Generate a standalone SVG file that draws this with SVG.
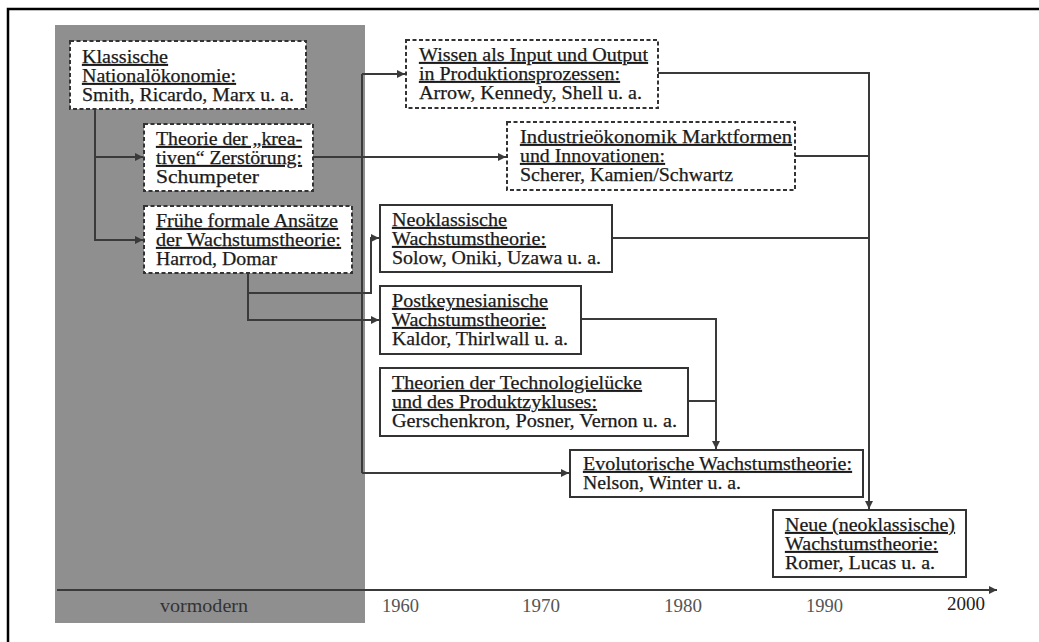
<svg xmlns="http://www.w3.org/2000/svg" width="1039" height="642" viewBox="0 0 1039 642">
<style>
.bx{fill:#fff;stroke:#333;stroke-width:2}
.dash{stroke-dasharray:4 2.5}
.t{font-family:"Liberation Serif","Times New Roman",serif;font-size:19px;fill:#1a1a1a;stroke:#1a1a1a;stroke-width:0.25}
.u{text-decoration:underline}
.c{fill:none;stroke:#3a3a3a;stroke-width:2}
.yr{font-family:"Liberation Serif","Times New Roman",serif;font-size:19px;fill:#555}
</style>
<defs>
<marker id="ah" markerUnits="userSpaceOnUse" markerWidth="9" markerHeight="8" refX="8" refY="4" orient="auto">
<path d="M0,0 L8,4 L0,8 z" fill="#3a3a3a"/>
</marker>
</defs>
<rect x="0" y="0" width="1039" height="642" fill="#fff"/>
<rect x="8" y="9" width="1045" height="650" fill="none" stroke="#000" stroke-width="2.5"/>
<rect id="vormodern-band" x="55" y="25" width="310" height="598" fill="#8f8f8f"/>

<g id="connectors">
<path class="c" d="M95,109 V240 H143" marker-end="url(#ah)"/>
<path class="c" d="M95,157 H143" marker-end="url(#ah)"/>
<path class="c" d="M248,273 V320 H379" marker-end="url(#ah)"/>
<path class="c" d="M248,293 H371 V238 H379" marker-end="url(#ah)"/>
<path class="c" d="M362,74 V473"/>
<path class="c" d="M362,74 H405" marker-end="url(#ah)"/>
<path class="c" d="M362,473 H569" marker-end="url(#ah)"/>
<path class="c" d="M313,157 H506" marker-end="url(#ah)"/>
<path class="c" d="M658,73 H869 V509" marker-end="url(#ah)"/>
<path class="c" d="M795,156 H869"/>
<path class="c" d="M612,238 H869"/>
<path class="c" d="M581,319 H716 V449" marker-end="url(#ah)"/>
<path class="c" d="M688,401 H716"/>
<path class="c" d="M57,590 H997" marker-end="url(#ah)"/>
</g>

<g id="klassische">
<rect class="bx dash" x="70" y="41" width="236" height="68"/>
<text class="t u" x="82" y="63" textLength="86" lengthAdjust="spacingAndGlyphs">Klassische</text>
<text class="t u" x="82" y="82" textLength="154" lengthAdjust="spacingAndGlyphs">Nationalökonomie:</text>
<text class="t" x="82" y="101" textLength="212" lengthAdjust="spacingAndGlyphs">Smith, Ricardo, Marx u. a.</text>
</g>

<g id="schumpeter">
<rect class="bx dash" x="144" y="124" width="169" height="67"/>
<text class="t u" x="156" y="145" textLength="146" lengthAdjust="spacingAndGlyphs">Theorie der „krea-</text>
<text class="t u" x="156" y="164" textLength="146" lengthAdjust="spacingAndGlyphs">tiven“ Zerstörung:</text>
<text class="t" x="156" y="183" textLength="103" lengthAdjust="spacingAndGlyphs">Schumpeter</text>
</g>

<g id="fruehe">
<rect class="bx dash" x="144" y="206" width="208" height="67"/>
<text class="t u" x="156" y="227" textLength="182" lengthAdjust="spacingAndGlyphs">Frühe formale Ansätze</text>
<text class="t u" x="156" y="246" textLength="185" lengthAdjust="spacingAndGlyphs">der Wachstumstheorie:</text>
<text class="t" x="156" y="265" textLength="121" lengthAdjust="spacingAndGlyphs">Harrod, Domar</text>
</g>

<g id="wissen">
<rect class="bx dash" x="406" y="40" width="252" height="68"/>
<text class="t u" x="419" y="61" textLength="229" lengthAdjust="spacingAndGlyphs">Wissen als Input und Output</text>
<text class="t u" x="419" y="80" textLength="201" lengthAdjust="spacingAndGlyphs">in Produktionsprozessen:</text>
<text class="t" x="419" y="99" textLength="223" lengthAdjust="spacingAndGlyphs">Arrow, Kennedy, Shell u. a.</text>
</g>

<g id="industrie">
<rect class="bx dash" x="507" y="122" width="288" height="68"/>
<text class="t u" x="520" y="143" textLength="272" lengthAdjust="spacingAndGlyphs">Industrieökonomik Marktformen</text>
<text class="t u" x="520" y="162" textLength="145" lengthAdjust="spacingAndGlyphs">und Innovationen:</text>
<text class="t" x="520" y="181" textLength="213" lengthAdjust="spacingAndGlyphs">Scherer, Kamien/Schwartz</text>
</g>

<g id="neoklassische">
<rect class="bx" x="380" y="205" width="232" height="67"/>
<text class="t u" x="392" y="226" textLength="115" lengthAdjust="spacingAndGlyphs">Neoklassische</text>
<text class="t u" x="392" y="245" textLength="154" lengthAdjust="spacingAndGlyphs">Wachstumstheorie:</text>
<text class="t" x="392" y="264" textLength="209" lengthAdjust="spacingAndGlyphs">Solow, Oniki, Uzawa u. a.</text>
</g>

<g id="postkeynesianische">
<rect class="bx" x="380" y="286" width="201" height="68"/>
<text class="t u" x="392" y="307" textLength="156" lengthAdjust="spacingAndGlyphs">Postkeynesianische</text>
<text class="t u" x="392" y="326" textLength="154" lengthAdjust="spacingAndGlyphs">Wachstumstheorie:</text>
<text class="t" x="392" y="345" textLength="176" lengthAdjust="spacingAndGlyphs">Kaldor, Thirlwall u. a.</text>
</g>

<g id="technologieluecke">
<rect class="bx" x="380" y="368" width="308" height="68"/>
<text class="t u" x="392" y="389" textLength="250" lengthAdjust="spacingAndGlyphs">Theorien der Technologielücke</text>
<text class="t u" x="392" y="408" textLength="205" lengthAdjust="spacingAndGlyphs">und des Produktzykluses:</text>
<text class="t" x="392" y="427" textLength="285" lengthAdjust="spacingAndGlyphs">Gerschenkron, Posner, Vernon u. a.</text>
</g>

<g id="evolutorische">
<rect class="bx" x="570" y="450" width="293" height="47"/>
<text class="t u" x="583" y="470" textLength="269" lengthAdjust="spacingAndGlyphs">Evolutorische Wachstumstheorie:</text>
<text class="t" x="583" y="489" textLength="158" lengthAdjust="spacingAndGlyphs">Nelson, Winter u. a.</text>
</g>

<g id="neue">
<rect class="bx" x="773" y="510" width="193" height="67"/>
<text class="t u" x="785" y="531" textLength="170" lengthAdjust="spacingAndGlyphs">Neue (neoklassische)</text>
<text class="t u" x="785" y="550" textLength="153" lengthAdjust="spacingAndGlyphs">Wachstumstheorie:</text>
<text class="t" x="785" y="569" textLength="150" lengthAdjust="spacingAndGlyphs">Romer, Lucas u. a.</text>
</g>

<g id="axis-labels">
<text class="yr" x="160" y="612" textLength="88" lengthAdjust="spacingAndGlyphs" style="fill:#333">vormodern</text>
<text class="yr" x="382" y="612" textLength="37" lengthAdjust="spacingAndGlyphs">1960</text>
<text class="yr" x="522" y="612" textLength="38" lengthAdjust="spacingAndGlyphs">1970</text>
<text class="yr" x="664" y="612" textLength="38" lengthAdjust="spacingAndGlyphs">1980</text>
<text class="yr" x="806" y="612" textLength="37" lengthAdjust="spacingAndGlyphs">1990</text>
<text class="yr" x="947" y="610" textLength="38" lengthAdjust="spacingAndGlyphs" style="fill:#222">2000</text>
</g>
</svg>
